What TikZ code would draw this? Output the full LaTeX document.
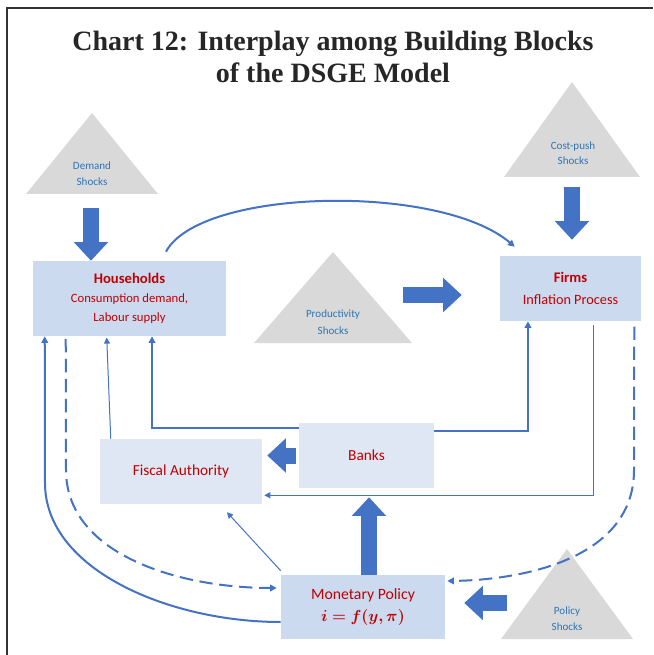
\documentclass[tikz,border=0pt]{standalone}
\usepackage{bm}
\usepackage{fontspec}
\setmainfont{Carlito}
\newfontfamily\titlefont{Liberation Serif}
\usetikzlibrary{arrows.meta}

\definecolor{boxblue}{HTML}{CCDAF0}
\definecolor{boxpale}{HTML}{DFE7F4}
\definecolor{shockgray}{HTML}{D9D9D9}
\definecolor{linkblue}{HTML}{4472C4}
\definecolor{labelred}{HTML}{C00000}
\definecolor{shocktext}{HTML}{2E75B6}

\begin{document}
\begin{tikzpicture}[x=0.75pt, y=-0.75pt,
  block/.style={fill=boxblue, align=center, text=labelred, inner sep=0pt, font=\fontsize{9.5}{14}\selectfont},
  paleblock/.style={block, fill=boxpale, font=\fontsize{11.5}{13}\selectfont},
  shock/.style={fill=shockgray},
  shocklabel/.style={align=center, text=shocktext, font=\fontsize{8.3}{12}\selectfont},
  fat/.style={draw=linkblue, line width=12pt, -{Triangle[length=14pt,width=25pt]}},
  link/.style={draw=linkblue, line width=1.5pt, -{Triangle[length=5pt,width=5pt]}},
  thinlink/.style={draw=linkblue, line width=0.75pt, -{Triangle[length=4.5pt,width=4.5pt]}},
  dashlink/.style={link, dash pattern=on 10pt off 5pt}]

\useasboundingbox (0,0) rectangle (653,655);
\draw[line width=1.1pt, black!80] (7,655) -- (7,8) -- (653,8);

\node[align=center, font=\fontsize{21}{23.5}\selectfont\titlefont\bfseries, text=black!85] (title) at (333,57)
  {Chart 12: Interplay among Building Blocks\\of the DSGE Model};

% shocks
\fill[shock] (26,194) -- (92,113) -- (158,194) -- cycle;
\fill[shock] (504,177) -- (572,82) -- (640,177) -- cycle;
\fill[shock] (254,343) -- (333,252) -- (412,343) -- cycle;
\fill[shock] (501,639) -- (567,549) -- (633,639) -- cycle;
\node[shocklabel] (demand) at (92,174) {Demand\\Shocks};
\node[shocklabel, font=\fontsize{8.3}{11.5}\selectfont] (costpush) at (573,153) {Cost-push\\Shocks};
\node[shocklabel, font=\fontsize{8.3}{13}\selectfont] (prod) at (333,322) {Productivity\\Shocks};
\node[shocklabel] (policy) at (567,619) {Policy\\Shocks};

% blocks
\node[block, minimum width=144.75pt, minimum height=56.25pt] (hh) at (129.5,298.5)
  {{\fontsize{11}{14}\selectfont\bfseries Households}\\Consumption demand,\\Labour supply};
\node[block, minimum width=105.75pt, minimum height=48.75pt, font=\fontsize{10.7}{16}\selectfont] (firms) at (570.5,288.5)
  {{\fontsize{11}{14}\selectfont\bfseries Firms}\\Inflation Process};
\node[paleblock, minimum width=121.5pt, minimum height=48.75pt] (fiscal) at (181,471.5) {Fiscal Authority};
\node[paleblock, minimum width=101.25pt, minimum height=48.75pt] (banks) at (366.5,455.5) {Banks};
\node[block, minimum width=123pt, minimum height=48pt, font=\fontsize{11.8}{17}\selectfont] (monpol) at (363,607)
  {Monetary Policy\\$\bm{i=f(y,\pi)}$};

% fat arrows
\coordinate (demandfoot) at (91,208);
\coordinate (costfoot) at (572,187);
\coordinate (prodfoot) at (403,295);
\coordinate (policyfoot) at (507,603);
\draw[fat] (demandfoot) -- (hh.north -| demandfoot);
\draw[fat, shorten >=12pt] (costfoot) -- (firms.north -| costfoot);
\draw[fat, shorten >=28.5pt] (prodfoot) -- (firms.west |- prodfoot);
\draw[fat, shorten <=2pt, shorten >=3.75pt] (banks.west) -- (banks.west -| fiscal.east);
\draw[fat, shorten >=6.75pt] ([xshift=4.5pt]monpol.north) -- ([xshift=4.5pt]monpol.north |- banks.south);
\draw[fat, shorten >=14.25pt] (policyfoot) -- (monpol.east |- policyfoot);

% links
\draw[link] ([yshift=6.75pt]hh.46) .. controls (200,188) and (440,183) .. ([xshift=11.25pt,yshift=6.75pt]firms.north west);
\draw[link] ([yshift=-3.75pt]banks.north west) -| ([xshift=16.9pt]hh.south);
\draw[link] ([yshift=-6pt]banks.north east) -| ([xshift=-31.9pt]firms.south);
\draw[thinlink] ([xshift=16.9pt,yshift=-3pt]firms.south) |- ([xshift=1.5pt,yshift=6.75pt]fiscal.south east);
\draw[thinlink] ([xshift=8.25pt]fiscal.north west) -- ([xshift=55.5pt,yshift=-1pt]hh.south west);
\draw[thinlink] ([yshift=3pt]monpol.north west) -- ([xshift=34.5pt,yshift=-6pt]fiscal.south);
\draw[link] ([yshift=-11.25pt]monpol.west) .. controls (170,622) and (45,570) .. (45,483) -- ([xshift=9pt]hh.south west);
\draw[dashlink] ([xshift=24.75pt,yshift=-2pt]hh.south west) -- (66,470) .. controls (66,555) and (180,588) .. ([xshift=-3pt,yshift=14.25pt]monpol.west);
\draw[dashlink] ([xshift=-5.25pt,yshift=-4pt]firms.south east) -- (634,470) .. controls (634,560) and (520,580) .. ([xshift=1.5pt,yshift=19.5pt]monpol.east);
\end{tikzpicture}
\end{document}
